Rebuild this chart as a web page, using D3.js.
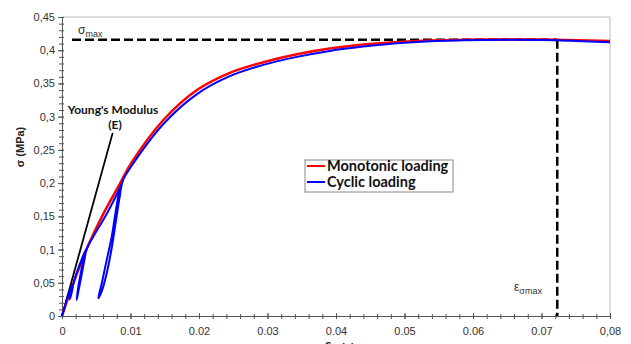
<!DOCTYPE html>
<html>
<head>
<meta charset="utf-8">
<script src="https://cdn.jsdelivr.net/npm/d3@7"></script>
<style>
  body { margin: 0; background: #fff; }
  svg { display: block; }
  .axis text { font-family: "Liberation Sans", Arial, sans-serif; font-size: 11px; fill: #333; }
  .axis path, .axis line { stroke: #555; }
</style>
</head>
<body>
<div id="vis"></div>
<script>
// monotonic loading curve (strain, stress in MPa)
const strainMono = [0, 0.0002, 0.00165, 0.0036, 0.006, 0.0085, 0.0101, 0.0148, 0.0197, 0.0245, 0.0294, 0.0343, 0.0391, 0.044, 0.0489, 0.0537, 0.0586, 0.065, 0.07, 0.075, 0.08];
const stressMono = [0, 0.0065, 0.049, 0.101, 0.153, 0.2, 0.23, 0.295, 0.34, 0.366, 0.382, 0.394, 0.4025, 0.4085, 0.4125, 0.4148, 0.4157, 0.4163, 0.416, 0.415, 0.4137];

// cyclic loading path, with three unload / reload loops
const strainCyc = [0, 0.0003, 0.0008, 0.00155,
  0.0013, 0.0011, 0.0013, 0.00155, 0.0017,
  0.0025, 0.0035,
  0.0031, 0.00273, 0.00238, 0.00214,
  0.00245, 0.0029, 0.0033, 0.0036,
  0.005, 0.0065, 0.0078, 0.0088,
  0.00837, 0.00788, 0.00725, 0.00652, 0.0058, 0.0053,
  0.0059, 0.00665, 0.0073, 0.0079, 0.0084, 0.0089,
  0.0101, 0.0148, 0.0197, 0.0245, 0.0294, 0.0343, 0.0391, 0.044, 0.0489, 0.0537, 0.0586, 0.065, 0.07, 0.075, 0.08];
const stressCyc = [0, 0.01, 0.028, 0.048,
  0.036, 0.025, 0.03, 0.042, 0.05,
  0.075, 0.1,
  0.084, 0.064, 0.044, 0.024,
  0.04, 0.064, 0.086, 0.101,
  0.127, 0.153, 0.179, 0.201,
  0.188, 0.16, 0.119, 0.084, 0.049, 0.0266,
  0.04, 0.07, 0.105, 0.145, 0.178, 0.204,
  0.225, 0.289, 0.334, 0.361, 0.378, 0.39, 0.399, 0.4055, 0.4105, 0.4135, 0.415, 0.4158, 0.4155, 0.414, 0.412];

// Young's modulus line end point
const youngStrain = [0, 0.0074];
const youngStress = [0, 0.2756];

// peak
const sigmaMax = 0.4157;
const strainAtMax = 0.0723;

const xTicks = [0, 0.01, 0.02, 0.03, 0.04, 0.05, 0.06, 0.07, 0.08];
const xTickLabels = ["0", "0.01", "0.02", "0.03", "0.04", "0.05", "0.06", "0.07", "0,08"];
const yTicks = [0, 0.05, 0.1, 0.15, 0.2, 0.25, 0.3, 0.35, 0.4, 0.45];
const yTickLabels = ["0", "0,05", "0,1", "0,15", "0,2", "0,25", "0,3", "0,35", "0,4", "0,45"];

let margin = {top: 17, left: 62, right: 21, bottom: 28},
  W = 631, H = 344,
  width = W - margin.left - margin.right,
  height = H - margin.top - margin.bottom;

let svg = d3.select('#vis').append('svg')
  .attr('width', W).attr('height', H);

let g = svg.append('g').attr('transform', `translate(${margin.left},${margin.top})`);

let x = d3.scaleLinear().domain([0, 0.08]).range([0, width]);
let y = d3.scaleLinear().domain([0, 0.45]).range([height, 0]);

// frame (top and right)
g.append('line').attr('x1', 0).attr('x2', width).attr('y1', 0).attr('y2', 0).attr('stroke', '#bbb');
g.append('line').attr('x1', width).attr('x2', width).attr('y1', 0).attr('y2', height).attr('stroke', '#bbb');

// minor ticks
let yMinor = d3.range(0, 0.4501, 0.01).map(v => +v.toFixed(2));
let xMinor = d3.range(0, 0.0801, 0.002).map(v => +v.toFixed(3));

let yMin = g.append('g').attr('class', 'axis')
  .call(d3.axisLeft(y).tickValues(yMinor).tickFormat('').tickSize(3).tickSizeOuter(0));
yMin.selectAll('.tick line').attr('x1', 2);
yMin.select('.domain').remove();

let xMin = g.append('g').attr('class', 'axis').attr('transform', `translate(0,${height})`)
  .call(d3.axisBottom(x).tickValues(xMinor).tickFormat('').tickSize(3).tickSizeOuter(0));
xMin.selectAll('.tick line').attr('y1', -2);
xMin.select('.domain').remove();

// major axes
let yAx = g.append('g').attr('class', 'axis')
  .call(d3.axisLeft(y).tickValues(yTicks).tickFormat((d, i) => yTickLabels[i]).tickSize(4).tickPadding(3).tickSizeOuter(0));
yAx.selectAll('.tick line').attr('x1', 2);

let xAx = g.append('g').attr('class', 'axis').attr('transform', `translate(0,${height})`)
  .call(d3.axisBottom(x).tickValues(xTicks).tickFormat((d, i) => xTickLabels[i]).tickSize(3).tickPadding(8).tickSizeOuter(0));
xAx.selectAll('.tick line').attr('y1', -3);

// dashed sigma max lines
g.append('line')
  .attr('x1', x(0) + 10).attr('x2', x(strainAtMax))
  .attr('y1', y(sigmaMax)).attr('y2', y(sigmaMax))
  .attr('stroke', '#000').attr('stroke-width', 2.5).attr('stroke-dasharray', '9,4');
g.append('line')
  .attr('x1', x(strainAtMax)).attr('x2', x(strainAtMax))
  .attr('y1', y(sigmaMax)).attr('y2', y(0))
  .attr('stroke', '#000').attr('stroke-width', 2.5).attr('stroke-dasharray', '9,4');

// Young's modulus line
g.append('line')
  .attr('x1', x(youngStrain[0])).attr('y1', y(youngStress[0]))
  .attr('x2', x(youngStrain[1])).attr('y2', y(youngStress[1]))
  .attr('stroke', '#000').attr('stroke-width', 1.8);

let line = d3.line()
  .x(d => x(d[0])).y(d => y(d[1]))
  .curve(d3.curveCatmullRom.alpha(0.5));

let mono = strainMono.map((e, i) => [e, stressMono[i]]);
let cyc = strainCyc.map((e, i) => [e, stressCyc[i]]);

g.append('path').datum(mono)
  .attr('d', line).attr('fill', 'none')
  .attr('stroke', '#ff0000').attr('stroke-width', 2.5);

g.append('path').datum(cyc)
  .attr('d', line).attr('fill', 'none')
  .attr('stroke', '#0000ff').attr('stroke-width', 2);

// annotations
let sMax = svg.append('text')
  .attr('x', 78).attr('y', 34)
  .style('font-family', 'Liberation Sans, Arial, sans-serif')
  .style('font-size', '12px').style('fill', '#333');
sMax.append('tspan').text('σ');
sMax.append('tspan').attr('dy', 3).style('font-size', '9px').text('max');

let eMax = svg.append('text')
  .attr('x', 514).attr('y', 291)
  .style('font-family', 'Liberation Sans, Arial, sans-serif')
  .style('font-size', '12px').style('fill', '#333');
eMax.append('tspan').text('ε');
eMax.append('tspan').attr('dy', 3).style('font-size', '9px').text('σmax');

svg.append('text')
  .attr('x', 113).attr('y', 114)
  .attr('text-anchor', 'middle')
  .style('font-family', 'Lato, sans-serif').style('font-weight', 'bold')
  .style('font-size', '12px').style('fill', '#111')
  .text("Young's Modulus");
svg.append('text')
  .attr('x', 115).attr('y', 129)
  .attr('text-anchor', 'middle')
  .style('font-family', 'Lato, sans-serif').style('font-weight', 'bold')
  .style('font-size', '12px').style('fill', '#111')
  .text('(E)');

// axis titles
svg.append('text')
  .attr('transform', 'translate(24,147) rotate(-90)')
  .attr('text-anchor', 'middle')
  .style('font-family', 'Liberation Sans, Arial, sans-serif').style('font-weight', 'bold')
  .style('font-size', '11px').style('fill', '#222')
  .text('σ (MPa)');

let xl = svg.append('text')
  .attr('x', 325).attr('y', 349)
  .style('font-family', 'Liberation Sans, Arial, sans-serif').style('font-weight', 'bold')
  .style('font-size', '13px').style('fill', '#222');
xl.append('tspan').text('ε');
xl.append('tspan').attr('dy', 2).style('font-size', '10px').text('axial');

// legend
let lg = svg.append('g').attr('transform', 'translate(305,160)');
lg.append('rect').attr('width', 148).attr('height', 32)
  .attr('fill', '#fff').attr('stroke', '#888');
let legendItems = [['Monotonic loading', '#ff0000'], ['Cyclic loading', '#0000ff']];
legendItems.forEach((d, i) => {
  lg.append('line').attr('x1', 2).attr('x2', 20)
    .attr('y1', 6 + i * 16).attr('y2', 6 + i * 16)
    .attr('stroke', d[1]).attr('stroke-width', 2);
  lg.append('text').attr('x', 22).attr('y', 11 + i * 16)
    .style('font-family', 'Lato, sans-serif').style('font-weight', 'bold')
    .style('font-size', '14.5px').style('fill', '#111')
    .text(d[0]);
});
</script>
</body>
</html>
